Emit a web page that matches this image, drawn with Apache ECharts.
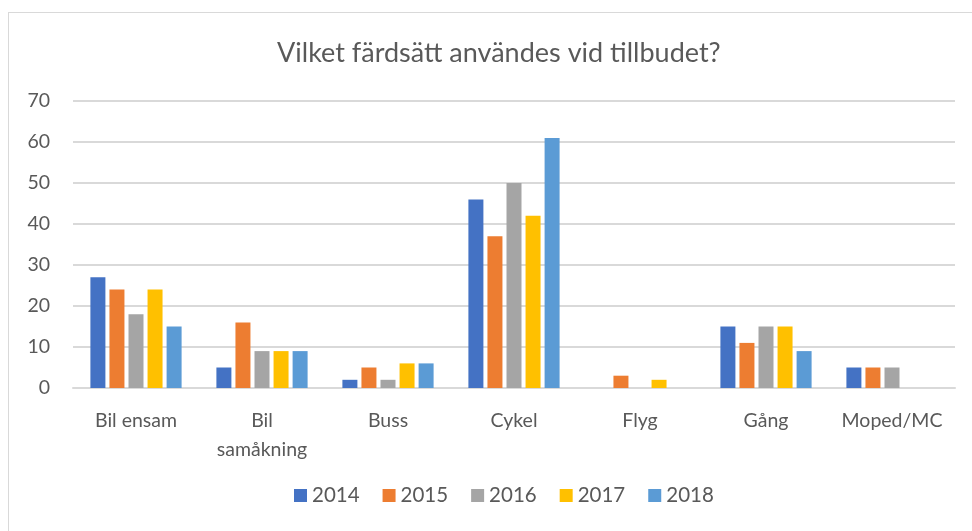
<!DOCTYPE html>
<html>
<head>
<meta charset="utf-8">
<script src="https://cdn.jsdelivr.net/npm/echarts@6/dist/echarts.min.js"></script>
<style>
  html, body { margin: 0; padding: 0; background: #fff; }
  #frame { position: absolute; left: 8px; top: 12px; width: 980px; height: 540px; border: 1px solid #d9d9d9; box-sizing: border-box; }
  #chart { position: absolute; left: 0; top: 0; width: 972px; height: 531px; }
</style>
</head>
<body>
<div id="frame"></div>
<div id="chart"></div>
<script>
// kategorier och år
var categories = ['Bil ensam', 'Bil\nsamåkning', 'Buss', 'Cykel', 'Flyg', 'Gång', 'Moped/MC'];
var years = ['2014', '2015', '2016', '2017', '2018'];
var colors = ['#4472c4', '#ed7d31', '#a5a5a5', '#ffc000', '#5b9bd5'];

// värden per år
var v2014 = [27, 5, 2, 46, 0, 15, 5];
var v2015 = [24, 16, 5, 37, 3, 11, 5];
var v2016 = [18, 9, 2, 50, 0, 15, 5];
var v2017 = [24, 9, 6, 42, 2, 15, 0];
var v2018 = [15, 9, 6, 61, 0, 9, 0];
var values = [v2014, v2015, v2016, v2017, v2018];

var yTicks = [0, 10, 20, 30, 40, 50, 60, 70];

var chart = echarts.init(document.getElementById('chart'));
var font = 'Lato, "Noto Sans", sans-serif';

var series = years.map(function (y, i) {
   return {
      name: y,
      type: 'bar',
      data: values[i],
      barWidth: 15,
      barGap: '27%',
      itemStyle: { color: colors[i] }
   };
});

var option = {
   animation: false,
   title: {
      text: 'Vilket färdsätt användes vid tillbudet?',
      left: 272,
      top: 35,
      textStyle: { fontFamily: font, fontSize: 27, fontWeight: 'normal', color: '#595959' }
   },
   legend: {
      data: years,
      bottom: 20,
      left: 289,
      itemWidth: 13,
      itemHeight: 13,
      itemGap: 23,
      icon: 'rect',
      textStyle: { fontFamily: font, fontSize: 20.5, color: '#595959' }
   },
   grid: { left: 73, right: 17, top: 101, bottom: 143 },
   xAxis: {
      type: 'category',
      data: categories,
      axisLine: { lineStyle: { color: '#d9d9d9', width: 2 } },
      axisTick: { show: false },
      axisLabel: { interval: 0, fontFamily: font, fontSize: 19.5, color: '#595959', margin: 18, lineHeight: 29 }
   },
   yAxis: {
      type: 'value',
      min: yTicks[0],
      max: yTicks[yTicks.length - 1],
      interval: 10,
      axisLine: { show: false },
      axisTick: { show: false },
      splitLine: { lineStyle: { color: '#d9d9d9', width: 2 } },
      axisLabel: { fontFamily: font, fontSize: 19.5, color: '#595959', margin: 23 }
   },
   series: series
};

chart.setOption(option);
</script>
</body>
</html>
